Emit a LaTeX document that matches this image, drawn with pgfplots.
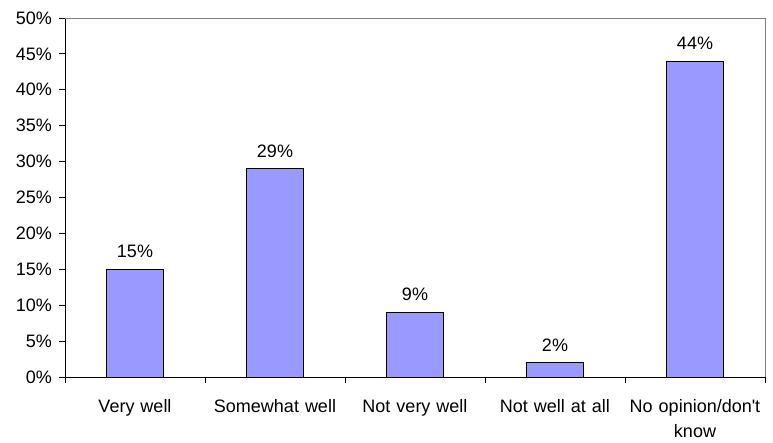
\documentclass[border=0pt]{standalone}
\usepackage{pgfplots}
\pgfplotsset{compat=1.18}
\usepackage{fontspec}
\setmainfont{Liberation Sans}
\definecolor{barblue}{HTML}{9999FF}
\begin{document}
\begin{tikzpicture}[font=\fontsize{18}{25}\selectfont]
\path[use as bounding box] (0,0) rectangle (773pt,442pt);
\begin{axis}[
  at={(65pt,65pt)}, anchor=south west,
  width=700pt, height=359pt, scale only axis,
  xmin=-0.5, xmax=4.5, ymin=0, ymax=50,
  axis x line=bottom, axis y line=left,
  axis line style={black, line width=0.9pt, -},
  ytick={0,5,...,50},
  yticklabel={\pgfmathprintnumber{\tick}\%},
  /pgf/number format/assume math mode=true,
  xtick={0,...,4},
  xticklabels={Very well, Somewhat well, Not very well, Not well at all, {No opinion/don\textquotesingle t\\know}},
  xticklabel style={align=center, text width=150pt, anchor=north, inner sep=0pt, yshift=-16pt},
  yticklabel style={anchor=east, inner sep=0pt, xshift=-7pt},
  major x tick style={draw=none},
  minor xtick={-0.5,0.5,...,4.5},
  tick align=outside,
  major tick length=6pt, minor tick length=6pt,
  tick style={black, line width=0.9pt},
  ybar, bar width=57pt,
  nodes near coords={\pgfmathprintnumber{\pgfplotspointmeta}\%},
  nodes near coords style={anchor=south, inner sep=0pt, yshift=11pt},
  clip=false,
]
\addplot[fill=barblue, draw=black, line width=0.9pt] coordinates {(0,15) (1,29) (2,9) (3,2) (4,44)};
\draw[gray, line width=0.9pt] (rel axis cs:0,1) -- (rel axis cs:1,1) -- (rel axis cs:1,0);
\end{axis}
\end{tikzpicture}
\end{document}
